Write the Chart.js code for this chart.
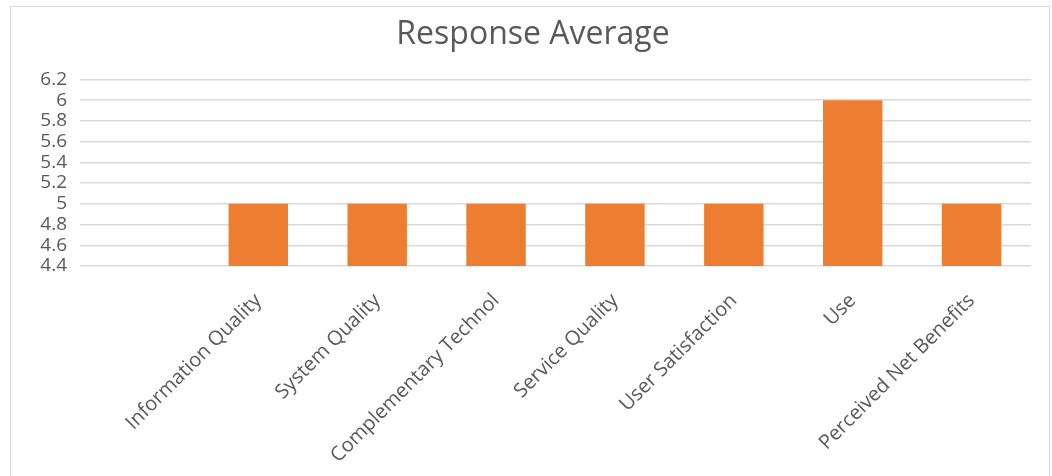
<!DOCTYPE html>
<html lang="en">
<head>
	<meta charset="UTF-8">
	<title>Response Average</title>
	<script src="https://cdn.jsdelivr.net/npm/chart.js@4.4.1/dist/chart.umd.min.js"></script>
	<style>
		html, body { margin: 0; padding: 0; background: #fff; }
		#wrap { width: 1052px; height: 476px; }
	</style>
</head>
<body>
	<div id="wrap">
		<canvas id="bar-chart" width="1052" height="476"></canvas>
	</div>

	<script>
		// data
		const categories = ["", "Information Quality", "System Quality", "Complementary Technol",
			"Service Quality", "User Satisfaction", "Use", "Perceived Net Benefits"];
		const responseAverage = [null, 5, 5, 5, 5, 5, 6, 5];
		const yMin = 4.4;
		const yMax = 6.2;
		const yStep = 0.2;

		const textColor = "#595959";
		const gridColor = "#d9d9d9";

		// white background + thin frame like the excel chart area
		const frame = {
			id: 'frame',
			beforeDraw(chart) {
				const ctx = chart.ctx;
				ctx.save();
				ctx.fillStyle = "#fff";
				ctx.fillRect(0, 0, chart.width, chart.height);
				ctx.strokeStyle = gridColor;
				ctx.lineWidth = 1;
				ctx.strokeRect(10.5, 6.5, 1039, 500);
				ctx.restore();
			}
		};

		new Chart(document.getElementById("bar-chart"), {
			type: 'bar',
			data: {
				labels: categories,
				datasets: [{
					label: "Response Average",
					data: responseAverage,
					backgroundColor: "#ED7D31",
					barPercentage: 0.5,
					categoryPercentage: 1.0
				}]
			},
			options: {
				responsive: false,
				animation: false,
				layout: { padding: { left: 35, right: 21, top: 0, bottom: 0 } },
				plugins: {
					legend: { display: false },
					tooltip: { enabled: false },
					title: {
						display: true,
						text: "Response Average",
						color: textColor,
						font: { family: "'Open Sans', sans-serif", size: 32, weight: 'normal' },
						padding: { top: 16, bottom: 25 }
					}
				},
				scales: {
					x: {
						grid: { display: false },
						border: { display: false },
						ticks: {
							autoSkip: false,
							maxRotation: 45,
							minRotation: 45,
							padding: 15,
							color: textColor,
							font: { family: "'Open Sans', sans-serif", size: 20 }
						},
						afterFit(scale) { scale.height = 210; }
					},
					y: {
						min: yMin,
						max: yMax,
						afterBuildTicks(scale) {
							// fixed ticks so that 6.2 is kept at the top
							const t = [];
							for (let i = 0; i <= 9; i++) t.push({ value: Number((yMin + i * yStep).toFixed(1)) });
							scale.ticks = t;
						},
						grid: { color: gridColor, lineWidth: 1.5, drawTicks: false },
						border: { display: false },
						ticks: {
							autoSkip: false,
							padding: 13,
							color: textColor,
							font: { family: "'Open Sans', sans-serif", size: 19, lineHeight: 1.0 },
							callback: (v) => String(Number(v.toFixed(1)))
						},
						afterFit(scale) { scale.width = 45; }
					}
				}
			},
			plugins: [frame]
		});
	</script>
</body>
</html>
